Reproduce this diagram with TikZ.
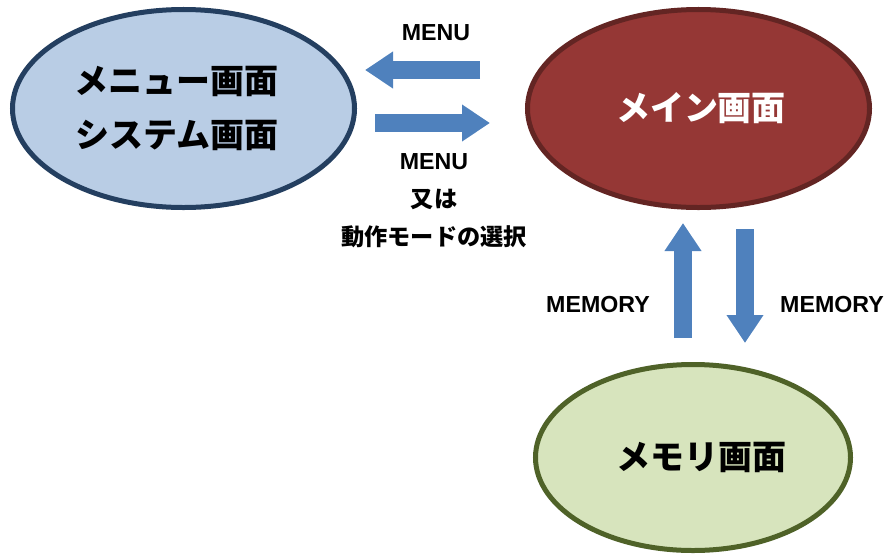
\documentclass[tikz,border=0pt]{standalone}
\usepackage{fontspec}
\setmainfont{Liberation Sans}
\newfontfamily\jpfont{Noto Sans CJK JP}
\usetikzlibrary{arrows.meta,shapes.geometric}

\definecolor{menufill}{HTML}{B9CDE5}
\definecolor{menuline}{HTML}{243F60}
\definecolor{mainfill}{HTML}{953735}
\definecolor{mainline}{HTML}{632523}
\definecolor{memfill}{HTML}{D7E4BD}
\definecolor{memline}{HTML}{4F6228}
\definecolor{arrowblue}{HTML}{4F81BD}

\begin{document}
\begin{tikzpicture}[
    x=0.03cm, y=-0.03cm,
    screen/.style={ellipse, line width=0.15cm, inner sep=0pt, align=center, font=\jpfont\bfseries\fontsize{29}{46}\selectfont},
    menuscr/.style={screen, draw=menuline, fill=menufill, minimum width=10.26cm, minimum height=5.94cm},
    mainscr/.style={screen, draw=mainline, fill=mainfill, text=white, minimum width=10.26cm, minimum height=5.94cm},
    memscr/.style={screen, draw=memline, fill=memfill, minimum width=9.45cm, minimum height=5.58cm},
    label/.style={align=center, font=\bfseries\fontsize{19.8}{32.4}\selectfont},
    blockarrow/.style={draw=arrowblue, line width=0.52cm, -{Triangle[length=0.84cm, width=1.05cm]}}
]
\useasboundingbox (0,0) rectangle (888,554);

% Screens
\node[menuscr] (menu) at (183.5,108.5) {メニュー画面\kern0.4cm\\システム画面\kern0.4cm};
\node[mainscr] (main) at (698.5,108.5) {\kern0.15cm メイン画面};
\node[memscr] (mem) at (693,457.5) {\kern0.5cm メモリ画面};

% Arrow end points
\coordinate (back1) at (480,70);
\coordinate (back2) at (365,70);
\coordinate (go1) at (375,123);
\coordinate (go2) at (490,123);
\coordinate (up1) at (683,338);
\coordinate (up2) at (683,223);
\coordinate (down1) at (745,229);
\coordinate (down2) at (745,343);

% Arrows
\draw[blockarrow] (back1) -- (back2);
\draw[blockarrow] (go1) -- (go2);
\draw[blockarrow] (up1) -- (up2);
\draw[blockarrow] (down1) -- (down2);

% Labels
\node[label] (menukey) at (436,33) {MENU};
\node[label] (select) at (434,201) {MENU\\{\jpfont 又は}\\{\jpfont 動作モードの選択}};
\node[label] (memin) at (598,305) {MEMORY};
\node[label] (memout) at (832,305) {MEMORY};

\end{tikzpicture}
\end{document}
